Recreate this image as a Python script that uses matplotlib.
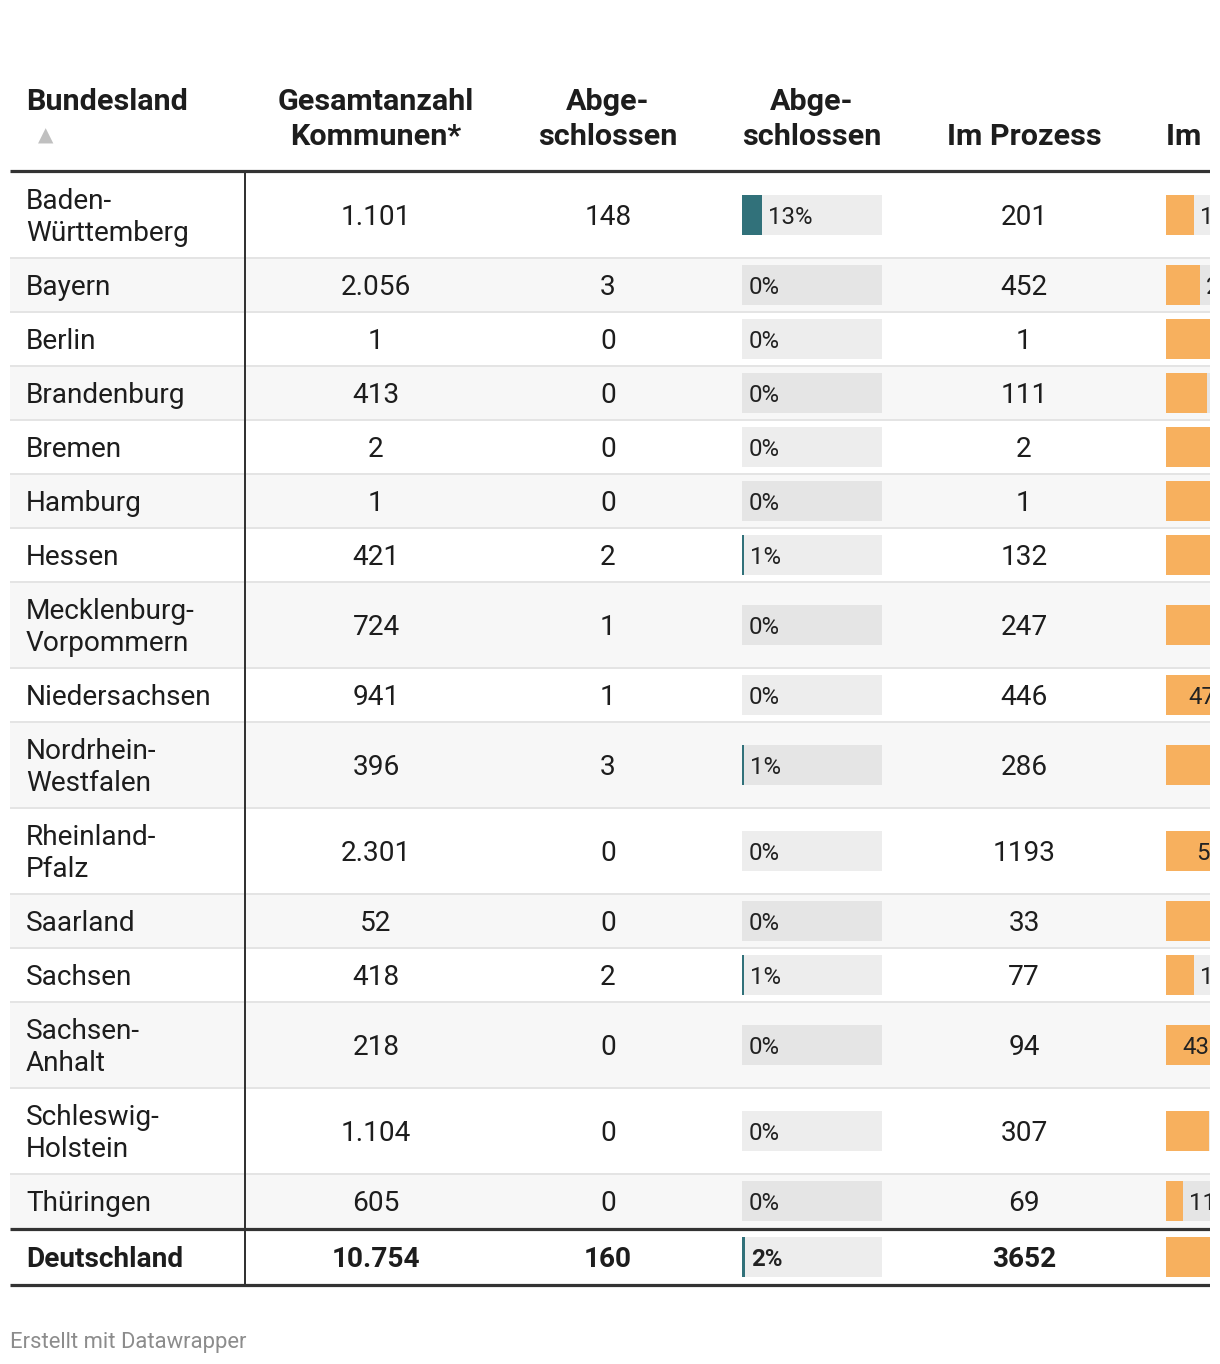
import matplotlib
matplotlib.use("Agg")
import matplotlib.pyplot as plt
from matplotlib.patches import Rectangle

# ---------------- data ----------------
laender = ["Baden-\nWürttemberg", "Bayern", "Berlin", "Brandenburg", "Bremen",
           "Hamburg", "Hessen", "Mecklenburg-\nVorpommern", "Niedersachsen",
           "Nordrhein-\nWestfalen", "Rheinland-\nPfalz", "Saarland", "Sachsen",
           "Sachsen-\nAnhalt", "Schleswig-\nHolstein", "Thüringen"]
gesamt = [1101, 2056, 1, 413, 2, 1, 421, 724, 941, 396, 2301, 52, 418, 218, 1104, 605]
abgeschlossen = [148, 3, 0, 0, 0, 0, 2, 1, 1, 3, 0, 0, 2, 0, 0, 0]
abgeschlossen_pct = [13, 0, 0, 0, 0, 0, 1, 0, 0, 1, 0, 0, 1, 0, 0, 0]
im_prozess = [201, 452, 1, 111, 2, 1, 132, 247, 446, 286, 1193, 33, 77, 94, 307, 69]
im_prozess_pct = [18, 22, 100, 27, 100, 100, 31, 34, 47, 72, 52, 63, 18, 43, 28, 11]

total_name = "Deutschland"
total_gesamt = 10754
total_abgeschlossen = 160
total_abgeschlossen_pct = 2
total_im_prozess = 3652
total_im_prozess_pct = 34

headers = ["Bundesland", "Gesamtanzahl\nKommunen*", "Abge-\nschlossen",
           "Abge-\nschlossen", "Im Prozess", "Im Prozess"]
footer = "Erstellt mit Datawrapper"

# ---------------- style ----------------
W, H = 1220, 1364
DPI = 100
PX = 72.0 / DPI  # points per pixel
FONT = ["Roboto", "DejaVu Sans"]
TXT = "#1d1d1d"
TEAL = "#31717a"
ORANGE = "#f7b05e"
GREY_ROW = "#f7f7f7"
BG_WHITE_ROW = "#ededed"
BG_GREY_ROW = "#e5e5e5"
SEP = "#e4e4e4"
DARK = "#333333"

body_fs = 28 * PX
head_fs = 30.5 * PX
bar_fs = 24 * PX
foot_fs = 22 * PX

fig = plt.figure(figsize=(W / DPI, H / DPI), dpi=DPI)
fig.patch.set_facecolor("white")
clip_w = 1210
ax = fig.add_axes([0, 0, clip_w / W, 1])
ax.set_xlim(0, clip_w)
ax.set_ylim(H, 0)
ax.axis("off")

left, right = 10, clip_w
x_name = 26
x_vline = 245
x_gesamt = 376
x_abg = 608
x_bar1 = 742
bar_bg_w = 140
x_proz = 1024
x_bar2 = 1166
bar_scale = 1.53  # px per percent
line_h = 32
row_h1 = 54


def fmt_de(v):
    return f"{v:,}".replace(",", ".")


def put(x, yc, s, ha="center", bold=False, fs=body_fs, color=TXT):
    ax.text(x, yc + 0.36 * fs / PX, s, ha=ha, va="baseline", fontsize=fs,
            fontweight="bold" if bold else "normal", color=color,
            family=FONT, clip_on=True)


def put_lines(x, yc, s, **kw):
    lines = s.split("\n")
    n = len(lines)
    for i, ln in enumerate(lines):
        put(x, yc + (i - (n - 1) / 2) * line_h, ln, **kw)


# ---------------- header ----------------
head_y1, head_y2 = 99, 134
put(x_name, head_y1, headers[0], ha="left", bold=True, fs=head_fs)
ax.text(46, 136, "▲", ha="center", va="center", fontsize=20 * PX,
        color="#c0c0c0", family=["DejaVu Sans"])
for xc, h, ha in [(x_gesamt, headers[1], "center"), (x_abg, headers[2], "center"),
                  (x_bar1 + bar_bg_w / 2, headers[3], "center"),
                  (x_proz, headers[4], "center"), (x_bar2, headers[5], "left")]:
    lines = h.split("\n")
    ys = [head_y1, head_y2] if len(lines) == 2 else [head_y2]
    for ln, yy in zip(lines, ys):
        put(xc, yy, ln, ha=ha, bold=True, fs=head_fs)

# ---------------- rows ----------------
y = 172
rows = list(zip(laender, gesamt, abgeschlossen, abgeschlossen_pct,
                im_prozess, im_prozess_pct))
rows.append((total_name, total_gesamt, total_abgeschlossen,
             total_abgeschlossen_pct, total_im_prozess, total_im_prozess_pct))

row_bounds = []
for i, (name, ges, abg, apct, proz, ppct) in enumerate(rows):
    is_total = i == len(rows) - 1
    n_lines = name.count("\n") + 1
    h = row_h1 + (n_lines - 1) * line_h
    if is_total:
        y += 2
    y0, y1 = y, y + h
    yc = (y0 + y1) / 2
    grey = (i % 2 == 1) and not is_total
    if grey:
        ax.add_patch(Rectangle((left, y0), right - left, h, facecolor=GREY_ROW,
                               edgecolor="none", zorder=0))
    bgc = BG_GREY_ROW if grey else BG_WHITE_ROW
    put_lines(x_name, yc, name, ha="left", bold=is_total)
    put(x_gesamt, yc, fmt_de(ges), bold=is_total)
    put(x_abg, yc, str(abg), bold=is_total)
    put(x_proz, yc, str(proz), bold=is_total)

    # bar column 1 (abgeschlossen %)
    bh = 40
    ax.add_patch(Rectangle((x_bar1, yc - bh / 2), bar_bg_w, bh, facecolor=bgc,
                           edgecolor="none", zorder=1))
    w1 = apct * bar_scale
    if w1 > 0:
        ax.add_patch(Rectangle((x_bar1, yc - bh / 2), max(w1, 2), bh,
                               facecolor=TEAL, edgecolor="none", zorder=2))
    put(x_bar1 + (w1 + 6 if w1 > 0 else 7), yc, f"{apct}%", ha="left",
        bold=is_total, fs=bar_fs, color="#222222")

    # bar column 2 (im Prozess %)
    ax.add_patch(Rectangle((x_bar2, yc - bh / 2), bar_bg_w + 20, bh,
                           facecolor=bgc, edgecolor="none", zorder=1,
                           clip_on=True))
    w2 = ppct * bar_scale
    ax.add_patch(Rectangle((x_bar2, yc - bh / 2), w2, bh, facecolor=ORANGE,
                           edgecolor="none", zorder=2, clip_on=True))
    if ppct >= 40:
        put(x_bar2 + w2 - 5, yc, f"{ppct}%", ha="right", bold=is_total,
            fs=bar_fs, color="#222222")
    else:
        put(x_bar2 + w2 + 6, yc, f"{ppct}%", ha="left", bold=is_total,
            fs=bar_fs, color="#222222")

    row_bounds.append((y0, y1, is_total))
    y = y1

# separators
for k, (y0, y1, is_total) in enumerate(row_bounds[:-1]):
    nxt_total = row_bounds[k + 1][2]
    if not nxt_total:
        ax.plot([left, right], [y1, y1], color=SEP, lw=2 * PX,
                solid_capstyle="butt", zorder=3)

top_line = 171
mid_line = row_bounds[-1][0] - 1
bot_line = row_bounds[-1][1] + 1
for yy in (top_line, mid_line, bot_line):
    ax.plot([left, right], [yy, yy], color=DARK, lw=3.2 * PX,
            solid_capstyle="butt", zorder=5)
ax.plot([x_vline, x_vline], [top_line, bot_line], color=DARK, lw=2 * PX,
        solid_capstyle="butt", zorder=4)

# footer
put(10, 1340, footer, ha="left", fs=foot_fs, color="#8c8c8c")

fig.savefig("out.png", dpi=DPI, facecolor="white")
